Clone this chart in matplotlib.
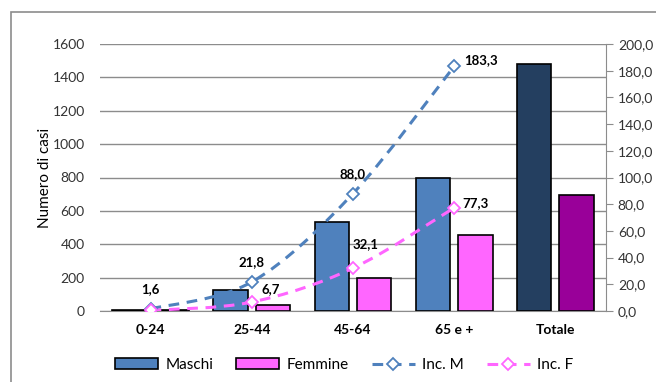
import numpy as np
import matplotlib.pyplot as plt
from matplotlib.path import Path
from matplotlib.patches import PathPatch, Rectangle
from matplotlib.lines import Line2D

# ---------------- dati ----------------
classi = ['0-24', '25-44', '45-64', '65 e +', 'Totale']
maschi = [5, 126, 535, 800, 1480]
femmine = [3, 36, 198, 455, 695]
inc_m = [1.6, 21.8, 88.0, 183.3]
inc_f = [0.4, 6.7, 32.1, 77.3]
lab_m = ['1,6', '21,8', '88,0', '183,3']
lab_f = ['', '6,7', '32,1', '77,3']

col_m = ['#4F81BD'] * 4 + ['#243F60']
col_f = ['#FF66FF'] * 4 + ['#990099']

plt.rcParams['font.family'] = ['Lato', 'DejaVu Sans']

fig = plt.figure(figsize=(6.56, 3.82), dpi=100)
ax = fig.add_axes([100 / 656, 1 - 311 / 382, 506 / 656, 267 / 382])
ax2 = ax.twinx()

x = np.arange(len(classi))
w = 0.34
ax.bar(x - 0.04 - w / 2, maschi, w, color=col_m, edgecolor='black', linewidth=1.2, zorder=3)
ax.bar(x + 0.04 + w / 2, femmine, w, color=col_f, edgecolor='black', linewidth=1.2, zorder=3)

ax.set_xlim(-0.5, 4.5)
ax.set_ylim(0, 1600)
ax.set_yticks(range(0, 1601, 200))
ax.yaxis.grid(True, color='#8C8C8C', linewidth=1)
ax.set_axisbelow(True)
ax.tick_params(axis='y', length=0, pad=11, labelsize=10, colors='#333333')
ax.tick_params(axis='x', length=0, pad=9, labelsize=10)
ax.set_xticks(x)
ax.set_xticklabels(classi, fontweight='bold')
ax.set_ylabel('Numero di casi', fontsize=11, labelpad=0)
for s in ['left', 'top', 'right']:
    ax.spines[s].set_visible(False)
ax.spines['bottom'].set_color('#8C8C8C')

ax2.set_ylim(0, 200)
ax2.set_yticks(range(0, 201, 20))
ax2.set_yticklabels([f'{v},0' for v in range(0, 201, 20)])
ax2.tick_params(axis='y', length=5, direction='out', color='#8C8C8C', labelsize=10,
                labelcolor='#333333')
for s in ['left', 'top', 'bottom']:
    ax2.spines[s].set_visible(False)
ax2.spines['right'].set_color('#8C8C8C')


def curva(xs, ys):
    # linea smussata (Catmull-Rom convertita in Bezier cubiche)
    p = np.column_stack([xs, ys]).astype(float)
    pp = np.vstack([p[0], p, p[-1]])
    verts = [p[0]]
    codes = [Path.MOVETO]
    for i in range(len(p) - 1):
        c1 = pp[i + 1] + (pp[i + 2] - pp[i]) / 6
        c2 = pp[i + 2] - (pp[i + 3] - pp[i + 1]) / 6
        verts += [c1, c2, pp[i + 2]]
        codes += [Path.CURVE4] * 3
    return Path(verts, codes)


xl = x[:4]
for vals, col in [(inc_m, '#4F81BD'), (inc_f, '#FF66FF')]:
    ax2.add_patch(PathPatch(curva(xl, vals), facecolor='none', edgecolor=col,
                            linewidth=2.2, linestyle=(0, (3.5, 2.5)), zorder=4))
    ax2.plot(xl, vals, linestyle='none', marker='D', markersize=6,
             markerfacecolor='white', markeredgecolor=col, markeredgewidth=1.3, zorder=5)

# etichette dei valori (spostamento in punti, allineamento)
pos_m = [(0, 10, 'center'), (0, 10, 'center'), (0, 10, 'center'), (7, 0, 'left')]
pos_f = [None, (7, 5, 'left'), (0, 13, 'left'), (6, -1, 'left')]
for i in range(4):
    dx, dy, ha = pos_m[i]
    ax2.annotate(lab_m[i], (xl[i], inc_m[i]), xytext=(dx, dy), textcoords='offset points',
                 ha=ha, va='bottom', fontsize=9.5, fontweight='bold')
    if pos_f[i]:
        dx, dy, ha = pos_f[i]
        ax2.annotate(lab_f[i], (xl[i], inc_f[i]), xytext=(dx, dy), textcoords='offset points',
                     ha=ha, va='bottom', fontsize=9.5, fontweight='bold')

handles = [
    Rectangle((0, 0), 1, 1, facecolor='#4F81BD', edgecolor='black', linewidth=1.2),
    Rectangle((0, 0), 1, 1, facecolor='#FF66FF', edgecolor='black', linewidth=1.2),
    Line2D([], [], color='#4F81BD', linewidth=2.2, linestyle=(0, (3.5, 2.5)), marker='D',
           markersize=6, markerfacecolor='white', markeredgewidth=1.3),
    Line2D([], [], color='#FF66FF', linewidth=2.2, linestyle=(0, (3.5, 2.5)), marker='D',
           markersize=6, markerfacecolor='white', markeredgewidth=1.3),
]
fig.legend(handles, ['Maschi', 'Femmine', 'Inc. M', 'Inc. F'], loc='center',
           bbox_to_anchor=(0.525, 1 - 365 / 382), ncol=4, frameon=False, fontsize=11,
           handlelength=2.8, handleheight=0.7, columnspacing=1.5, handletextpad=0.5)

# cornice esterna del grafico
fig.add_artist(Rectangle((11 / 656, -0.1), 1.2, 1.1 - 12 / 382, transform=fig.transFigure,
                         facecolor='none', edgecolor='#8C8C8C', linewidth=1.2))

fig.savefig('out.png', dpi=100)
